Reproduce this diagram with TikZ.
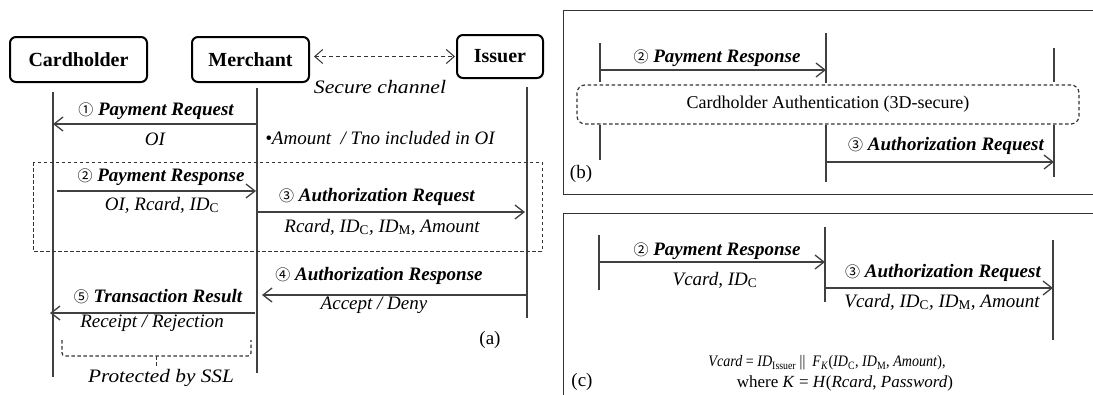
\documentclass[tikz,border=0pt]{standalone}
\usepackage{fontspec}
\setmainfont{Liberation Serif}
\newfontfamily\symfont{Noto Sans CJK SC}
\usetikzlibrary{arrows.meta}
\newcommand{\cn}[1]{{\symfont\upshape\mdseries\fontsize{15}{15}\selectfont #1}}
\newcommand{\sbs}[1]{\textsubscript{\upshape #1}}
\begin{document}
\begin{tikzpicture}[x=1pt,y=-1pt,
  actor/.style={draw=black, line width=2pt, rounded corners=6pt, font=\fontsize{20}{23}\selectfont\bfseries, inner sep=0pt},
  life/.style={draw=black!75, line width=1.3pt},
  msg/.style={life, -{Straight Barb[length=9pt,width=14pt,line width=1.3pt]}},
  head/.style={font=\fontsize{19}{22}\selectfont\bfseries\itshape, inner sep=0pt},
  sublbl/.style={font=\fontsize{19}{22}\selectfont\itshape, inner sep=0pt},
  plain/.style={font=\fontsize{19}{22}\selectfont, inner sep=0pt},
  frm/.style={draw=black!80, line width=1pt},
  dsh/.style={draw=black!80, line width=1pt, dash pattern=on 3.5pt off 2.5pt}
]
\useasboundingbox (0,0) rectangle (1093,394);

% ---------------- panel (a) ----------------
\node[actor, minimum width=137pt, minimum height=45pt] (ch) at (78.5,59.5) {Cardholder};
\node[actor, minimum width=117pt, minimum height=45pt] (me) at (250.5,59.5) {Merchant};
\node[actor, minimum width=86pt, minimum height=43pt] (is) at (500,56.5) {Issuer};

\draw[dsh, dash pattern=on 4pt off 3pt, {Straight Barb[length=8pt,width=14pt,line width=1pt]}-{Straight Barb[length=8pt,width=14pt,line width=1pt]}]
  ([xshift=4pt]me.east|-is.west) -- ([xshift=-1pt]is.west);
\node[sublbl] (sec) at (380,87) {\scalebox{1.14}[1]{Secure channel}};

\coordinate (chT) at (53,92);  \coordinate (chB) at (53,377);
\coordinate (meT) at (257,88); \coordinate (meB) at (257,373);
\coordinate (isT) at (527,87); \coordinate (isB) at (527,318);
\draw[life] (chT) -- (chB);
\draw[life] (meT) -- (meB);
\draw[life] (isT) -- (isB);

% 1
\coordinate (m1s) at (257,124); \coordinate (m1e) at (53,124);
\draw[msg] (m1s) -- (m1e);
\node[head] (m1t) at (156,111) {\cn{①} Payment Request};
\node[sublbl] (m1b) at (155,139) {OI};
\node[sublbl] (note) at (380,138) {•Amount \ / Tno included in OI};

% dashed group
\draw[dsh] (33,162) rectangle (542,251);

% 2
\coordinate (m2s) at (57,191); \coordinate (m2e) at (256,191);
\draw[msg] (m2s) -- (m2e);
\node[head] (m2t) at (161,177) {\cn{②} Payment Response};
\node[sublbl] (m2b) at (162,205) {OI, Rcard, ID\sbs{C}};

% 3
\coordinate (m3s) at (257,212); \coordinate (m3e) at (525,212);
\draw[msg] (m3s) -- (m3e);
\node[head] (m3t) at (377,197) {\cn{③} Authorization Request};
\node[sublbl] (m3b) at (382,227) {Rcard, ID\sbs{C}, ID\sbs{M}, Amount};

% 4
\coordinate (m4s) at (527,295); \coordinate (m4e) at (262,295);
\draw[msg] (m4s) -- (m4e);
\node[head] (m4t) at (379,276) {\cn{④} Authorization Response};
\node[sublbl] (m4b) at (374,305) {Accept / Deny};

% 5
\coordinate (m5s) at (255,313); \coordinate (m5e) at (50,313);
\draw[msg] (m5s) -- (m5e);
\node[head] (m5t) at (158,297) {\cn{⑤} Transaction Result};
\node[sublbl] (m5b) at (152,323) {Receipt / Rejection};

% SSL bracket
\draw[dsh, line width=1.2pt, rounded corners=3pt] (62,340) -- (62,356) -- (251,356) -- (251,340);
\coordinate (brk) at (156,356); \coordinate (brkE) at (156,366);
\draw[dsh] (brk) -- (brkE);
\node[sublbl] (ssl) at (161,378) {\scalebox{1.12}[1]{Protected by SSL}};

\node[plain] (la) at (490,340) {(a)};

% ---------------- panel (b) ----------------
\draw[frm] (1093,10) -| (563,194) -- (1093,194);
\draw[life] (600,43) -- (600,82);   \draw[life] (600,125) -- (600,160);
\draw[life] (826,33) -- (826,83);   \draw[life] (826,125) -- (826,182);
\draw[life] (1054,48) -- (1054,82); \draw[life] (1054,125) -- (1054,177);

\coordinate (b2s) at (600,70); \coordinate (b2e) at (826,70);
\draw[msg] (b2s) -- (b2e);
\node[head] (b2t) at (717,58) {\cn{②} Payment Response};

\node[dsh, line width=1.2pt, rounded corners=8pt, minimum width=502pt, minimum height=39pt, inner sep=0pt,
      font=\fontsize{18}{21}\selectfont] (auth) at (828,104.5) {Cardholder Authentication (3D-secure)};

\coordinate (b3s) at (826,162); \coordinate (b3e) at (1054,162);
\draw[msg] (b3s) -- (b3e);
\node[head] (b3t) at (946,146) {\cn{③} Authorization Request};

\node[plain] (lb) at (581,174) {(b)};

% ---------------- panel (c) ----------------
\draw[frm] (1093,213) -| (563,395);
\draw[life] (599,235) -- (599,290);
\draw[life] (825,227) -- (825,302);
\draw[life] (1053,240) -- (1053,340);

\coordinate (c2s) at (599,262); \coordinate (c2e) at (825,262);
\draw[msg] (c2s) -- (c2e);
\node[head] (c2t) at (717,251) {\cn{②} Payment Response};
\node[sublbl] (c2b) at (715,280) {Vcard, ID\sbs{C}};

\coordinate (c3s) at (825,288); \coordinate (c3e) at (1053,288);
\draw[msg] (c3s) -- (c3e);
\node[head] (c3t) at (943,273) {\cn{③} Authorization Request};
\node[sublbl] (c3b) at (942,302) {Vcard, ID\sbs{C}, ID\sbs{M}, Amount};

\node[plain, font=\fontsize{16}{20}\selectfont] (f1) at (827,363)
  {\scalebox{0.88}[1]{\textit{Vcard} = \textit{ID}\sbs{Issuer} ||\ \ \textit{F}\textsubscript{\textit{K}}(\textit{ID}\sbs{C}, \textit{ID}\sbs{M}, \textit{Amount}),}};
\node[plain, font=\fontsize{17}{20}\selectfont] (f2) at (845,383)
  {where \textit{K} = \textit{H}(\textit{Rcard}, \textit{Password})};

\node[plain] (lc) at (582,382) {(c)};
\end{tikzpicture}
\end{document}
